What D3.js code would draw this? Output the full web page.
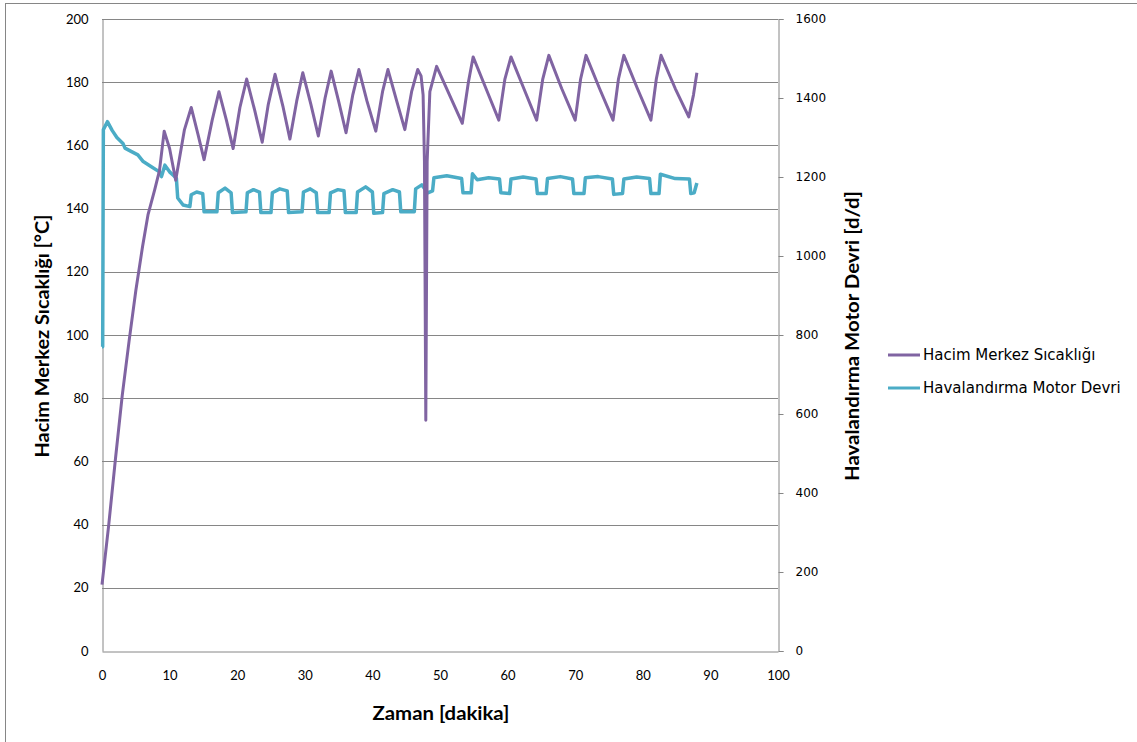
<!DOCTYPE html>
<html>
<head>
<meta charset="utf-8">
<script src="https://cdn.jsdelivr.net/npm/d3@7"></script>
<style>
  body { margin: 0; background: #fff; }
  svg { display: block; }
</style>
</head>
<body>
<svg width="1137" height="742"></svg>
<script>
// Hacim Merkez Sıcaklığı (°C) - time in minutes
const tempTime = [0, 1.0, 2.0, 3.0, 4.0, 5.0, 6.0, 6.8, 7.8, 8.5, 9.2, 10.0, 10.9, 12.2, 13.2, 14.2, 15.1, 16.3, 17.3, 18.4, 19.4, 20.4, 21.4, 22.6, 23.7, 24.6, 25.6, 26.8, 27.8, 28.8, 29.7, 30.9, 32.0, 33.0, 33.9, 35.0, 36.1, 37.1, 38.0, 39.2, 40.5, 41.5, 42.3, 43.6, 44.8, 45.8, 46.7, 47.2, 47.5, 47.7, 47.9, 48.1, 48.5, 49.5, 51.4, 53.3, 54.2, 54.9, 56.8, 58.7, 59.6, 60.5, 62.4, 64.3, 65.2, 66.1, 68.0, 70.0, 70.8, 71.6, 73.6, 75.6, 76.4, 77.2, 79.2, 81.2, 82.0, 82.7, 84.8, 86.8, 87.5, 88.0];
const tempValues = [21, 40, 61, 81, 98, 114, 128, 138, 146, 152, 164.5, 159, 149, 165, 172, 163.5, 155.5, 168, 177, 168, 159, 172, 181, 171, 161, 173, 182.5, 172, 162, 174, 183, 173, 163, 175, 183.5, 174, 164, 176, 184, 174, 164.5, 177, 184, 174, 165, 177, 184, 182, 176, 155, 73, 155, 177, 185, 176, 167, 180, 188, 178, 168, 181, 188, 178, 168, 181, 188.5, 178, 168, 181, 188.5, 178, 168, 181, 188.5, 178, 168, 181, 188.5, 178, 169, 176, 183];

// Havalandırma Motor Devri (d/d)
const rpmTime = [0, 0.1, 0.2, 0.8, 1.5, 2.2, 3.1, 3.4, 4.3, 5.3, 6.1, 7.3, 8.5, 8.8, 9.3, 10.0, 10.5, 11.0, 11.2, 12.0, 13.0, 13.2, 14.0, 14.9, 15.1, 17.0, 17.2, 18.2, 19.1, 19.3, 21.3, 21.5, 22.4, 23.3, 23.5, 25.0, 25.2, 26.3, 27.4, 27.6, 29.6, 29.8, 30.8, 31.7, 31.9, 33.6, 33.8, 34.9, 35.8, 36.0, 37.6, 37.8, 39.0, 40.0, 40.2, 41.5, 41.7, 43.0, 44.0, 44.2, 46.2, 46.4, 47.3, 48.2, 48.9, 49.1, 51.0, 53.2, 53.4, 54.6, 54.8, 55.5, 57.2, 58.8, 59.0, 60.3, 60.5, 62.3, 64.2, 64.4, 65.7, 65.9, 67.8, 69.6, 69.8, 71.3, 71.5, 73.4, 75.5, 75.7, 77.0, 77.2, 79.1, 81.0, 81.2, 82.4, 82.6, 84.8, 86.9, 87.1, 87.6, 88.0];
const rpmValues = [770, 770, 1320, 1340, 1318, 1300, 1285, 1273, 1265, 1256, 1239, 1226, 1213, 1201, 1230, 1213, 1205, 1197, 1147, 1129, 1125, 1155, 1162, 1158, 1112, 1112, 1160, 1172, 1160, 1110, 1112, 1160, 1168, 1162, 1110, 1110, 1160, 1170, 1165, 1110, 1112, 1162, 1170, 1160, 1110, 1110, 1160, 1168, 1165, 1110, 1110, 1162, 1175, 1162, 1108, 1110, 1158, 1168, 1162, 1112, 1112, 1170, 1180, 1160, 1165, 1198, 1203, 1196, 1160, 1160, 1208, 1193, 1198, 1195, 1160, 1158, 1195, 1200, 1195, 1158, 1158, 1196, 1201, 1195, 1158, 1158, 1198, 1201, 1195, 1156, 1158, 1195, 1200, 1196, 1158, 1158, 1207, 1196, 1195, 1158, 1160, 1185];

const xTicks = [0, 10, 20, 30, 40, 50, 60, 70, 80, 90, 100];
const leftTicks = [0, 20, 40, 60, 80, 100, 120, 140, 160, 180, 200];
const rightTicks = [0, 200, 400, 600, 800, 1000, 1200, 1400, 1600];
const seriesNames = ['Hacim Merkez Sıcaklığı', 'Havalandırma Motor Devri'];
const seriesColors = ['#8064A2', '#4BACC6'];

const svg = d3.select('svg');
const plotLeft = 102, plotRight = 778, plotTop = 19, plotBottom = 651;
const grid = '#868686';

const x = d3.scaleLinear().domain([0, 100]).range([plotLeft, plotRight]);
const yL = d3.scaleLinear().domain([0, 200]).range([plotBottom, plotTop]);
const yR = d3.scaleLinear().domain([0, 1600]).range([plotBottom, plotTop]);

// chart border
svg.append('rect')
    .attr('x', 5.5).attr('y', 3.5).attr('width', 1140).attr('height', 750)
    .attr('fill', 'none').attr('stroke', grid);

// gridlines
svg.append('g').selectAll('line')
    .data(leftTicks.filter(d => d > 0))
    .join('line')
    .attr('x1', plotLeft).attr('x2', plotRight)
    .attr('y1', d => Math.round(yL(d)) + 0.5).attr('y2', d => Math.round(yL(d)) + 0.5)
    .attr('stroke', grid);

// left axis
const gL = svg.append('g').attr('transform', `translate(${plotLeft + 0.5},0)`)
    .call(d3.axisLeft(yL).tickValues(leftTicks).tickSize(0).tickPadding(14));
gL.select('.domain').attr('stroke', grid);
gL.selectAll('text').attr('font-family', 'Lato, sans-serif').attr('font-size', 13).attr('fill', '#000');

// bottom axis
const gB = svg.append('g').attr('transform', `translate(0,${plotBottom + 0.5})`)
    .call(d3.axisBottom(x).tickValues(xTicks).tickSize(0).tickPadding(19));
gB.select('.domain').attr('stroke', grid);
gB.selectAll('text').attr('font-family', 'Lato, sans-serif').attr('font-size', 13).attr('fill', '#000');

// right axis
const gR = svg.append('g').attr('transform', `translate(${plotRight + 0.5},0)`)
    .call(d3.axisRight(yR).tickValues(rightTicks).tickSize(5).tickPadding(12).tickFormat(d3.format('d')));
gR.select('.domain').attr('stroke', grid);
gR.selectAll('line').attr('stroke', grid);
gR.selectAll('text').attr('font-family', 'DejaVu Sans, sans-serif').attr('font-size', 12).attr('fill', '#000');

// series
const rpmLine = d3.line().x((d, i) => x(rpmTime[i])).y(d => yR(d));
const tempLine = d3.line().x((d, i) => x(tempTime[i])).y(d => yL(d));

svg.append('path').datum(rpmValues)
    .attr('d', rpmLine)
    .attr('fill', 'none').attr('stroke', seriesColors[1])
    .attr('stroke-width', 3.5).attr('stroke-linejoin', 'round');

svg.append('path').datum(tempValues)
    .attr('d', tempLine)
    .attr('fill', 'none').attr('stroke', seriesColors[0])
    .attr('stroke-width', 3).attr('stroke-linejoin', 'round');

// axis titles
svg.append('text').text('Zaman [dakika]')
    .attr('x', 441).attr('y', 720).attr('text-anchor', 'middle')
    .attr('textLength', 137).attr('lengthAdjust', 'spacingAndGlyphs')
    .attr('font-family', 'Lato, sans-serif').attr('font-weight', 'bold').attr('font-size', 19);

svg.append('text').text('Hacim Merkez Sıcaklığı [°C]')
    .attr('transform', 'translate(49,336) rotate(-90)').attr('text-anchor', 'middle')
    .attr('textLength', 243).attr('lengthAdjust', 'spacingAndGlyphs')
    .attr('font-family', 'Lato, sans-serif').attr('font-weight', 'bold').attr('font-size', 18);

svg.append('text').text('Havalandırma Motor Devri [d/d]')
    .attr('transform', 'translate(859,336) rotate(-90)').attr('text-anchor', 'middle')
    .attr('textLength', 290).attr('lengthAdjust', 'spacingAndGlyphs')
    .attr('font-family', 'Lato, sans-serif').attr('font-weight', 'bold').attr('font-size', 18);

// legend
const legend = svg.append('g').selectAll('g')
    .data(seriesNames)
    .join('g')
    .attr('transform', (d, i) => `translate(888,${355 + i * 33})`);
legend.append('line')
    .attr('x1', 0).attr('x2', 32)
    .attr('stroke', (d, i) => seriesColors[i]).attr('stroke-width', 3);
legend.append('text').text(d => d)
    .attr('x', 35).attr('dy', '0.35em')
    .attr('font-family', 'DejaVu Sans, sans-serif').attr('font-size', 15);
</script>
</body>
</html>
